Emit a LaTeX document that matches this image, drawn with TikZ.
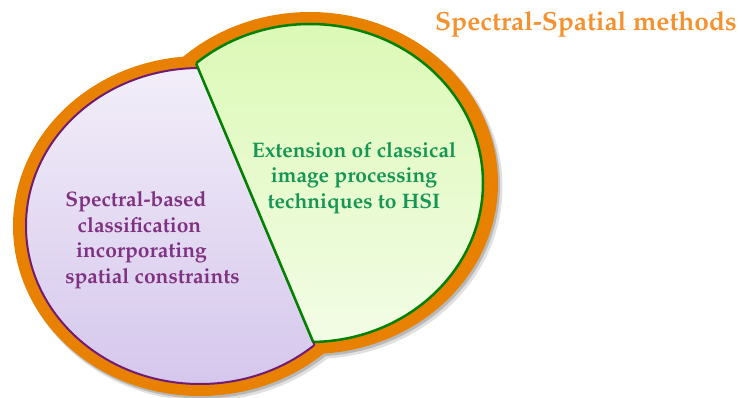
\documentclass[tikz,border=0pt]{standalone}
\usepackage[T1]{fontenc}
\definecolor{ringorange}{RGB}{232,128,0}
\definecolor{titleorange}{RGB}{245,146,48}
\definecolor{pborder}{RGB}{112,28,116}
\definecolor{ptext}{RGB}{128,50,130}
\definecolor{ptop}{RGB}{242,238,249}
\definecolor{pbot}{RGB}{213,199,236}
\definecolor{gborder}{RGB}{0,130,0}
\definecolor{gtext}{RGB}{22,150,85}
\definecolor{gtop}{RGB}{220,249,182}
\definecolor{gbot}{RGB}{243,252,230}
\newcommand\palbold{\fontfamily{ppl}\fontseries{b}\selectfont}
\newcommand\padr[1]{\hbox to #1{}}
\tikzset{
  shadowA/.style={fill=black!12},
  shadowB/.style={fill=black!28},
  ringfill/.style={fill=ringorange},
  pedge/.style={draw=pborder,line width=2pt},
  gedge/.style={draw=gborder,line width=2.5pt},
  gtextstyle/.style={align=center,text=gtext,font=\palbold\fontsize{21}{25.5}\selectfont,inner sep=0pt},
  ptextstyle/.style={align=center,text=ptext,font=\palbold\fontsize{21}{25.6}\selectfont,inner sep=0pt},
  titlestyle/.style={text=titleorange,font=\palbold\fontsize{26.3}{30}\selectfont,inner sep=0pt},
}
\begin{document}
\begin{tikzpicture}[x=1pt,y=-1pt]
\useasboundingbox (0,0) rectangle (742,397);
% soft shadow
\fill[shadowA] (203.5,230) ellipse [x radius=188pt,y radius=171pt];
\fill[shadowA] (313.5,187) ellipse [x radius=189pt,y radius=172pt];
\fill[shadowB] (202,228.5) ellipse [x radius=187pt,y radius=170pt];
\fill[shadowB] (312,185.5) ellipse [x radius=188pt,y radius=171pt];
% orange ring
\fill[ringfill] (200,226) ellipse [x radius=187pt,y radius=170pt];
\fill[ringfill] (310,183) ellipse [x radius=188pt,y radius=171pt];
% purple region
\begin{scope}
  \clip (-10,-20) -- (161,-20) -- (346,420) -- (-10,420) -- cycle;
  \shade[top color=ptop,bottom color=pbot] (200,226) ellipse [x radius=174pt,y radius=158pt];
  \draw[pedge] (200,226) ellipse [x radius=174pt,y radius=158pt];
\end{scope}
\begin{scope}
  \clip (200,226) ellipse [x radius=174pt,y radius=158pt];
  \draw[pedge] (161,-20) -- (346,420);
\end{scope}
% green region
\begin{scope}
  \clip (161,-20) -- (760,-20) -- (760,420) -- (346,420) -- cycle;
  \shade[top color=gtop,bottom color=gbot] (310,183) ellipse [x radius=173pt,y radius=159pt];
  \draw[gedge] (310,183) ellipse [x radius=173pt,y radius=159pt];
\end{scope}
\begin{scope}
  \clip (310,183) ellipse [x radius=173pt,y radius=159pt];
  \draw[gedge] (161,-20) -- (346,420);
\end{scope}
% texts
\node[titlestyle,anchor=base east] (title) at (737,30.5) {Spectral-Spatial methods};
\node[gtextstyle] (green) at (354,178) {Extension of classical\\image processing\\techniques to HSI};
\node[ptextstyle] (purple) at (152.5,240) {Spectral-based\padr{33pt}\\classification\padr{26pt}\\incorporating\padr{22pt}\\spatial constraints};
\end{tikzpicture}
\end{document}
